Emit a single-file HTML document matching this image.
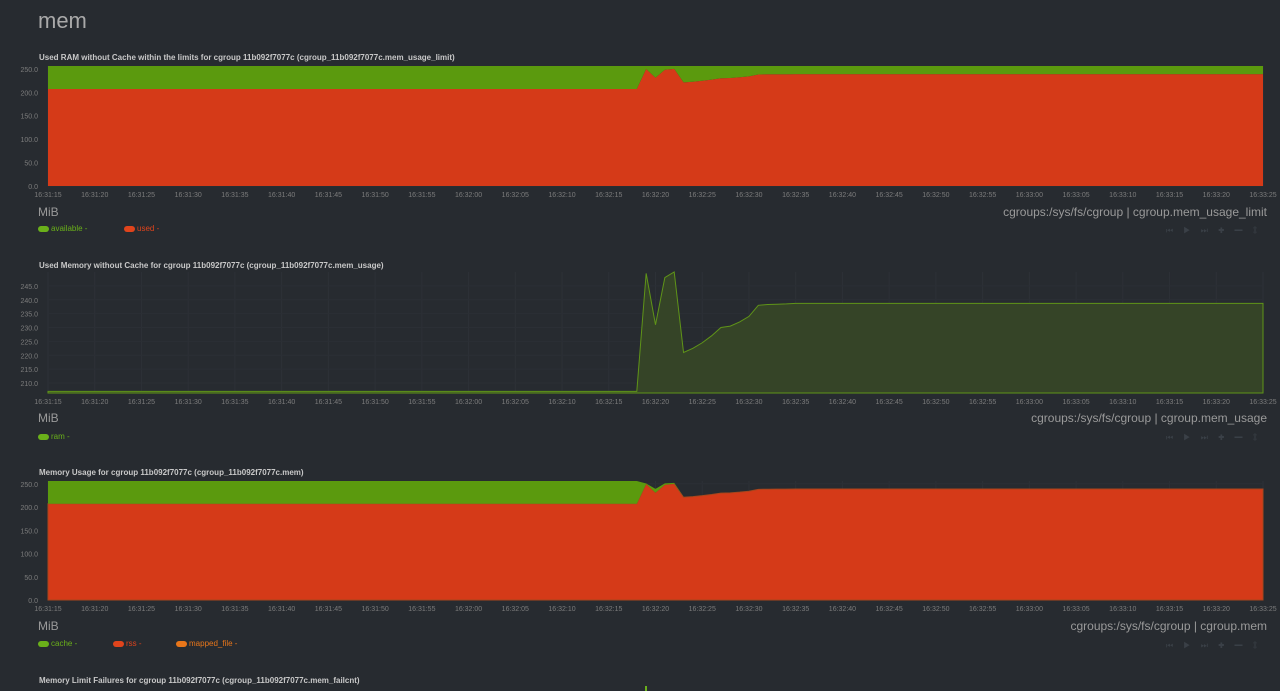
<!DOCTYPE html>
<html><head><meta charset="utf-8">
<style>
body{margin:0;background:#272b30;width:1280px;height:691px;overflow:hidden;font-family:"Liberation Sans",sans-serif;position:relative}
.abs{position:absolute;white-space:nowrap}
.title{font-size:8px;font-weight:bold;color:#c8c8c8}
.unit{font-size:12px;color:#9a9a9a}
.ctx{font-size:12px;color:#9a9a9a}
.leg{font-size:8px}
.sw{display:inline-block;width:11px;height:6px;border-radius:3px;margin-right:2px;vertical-align:middle}
svg text{font-family:"Liberation Sans",sans-serif;font-size:7px;fill:#7c7c7c}
</style></head><body>
<div class="abs" style="left:38px;top:8px;font-size:22px;color:#a9a9a9">mem</div>
<svg id="svg" width="1280" height="691" style="position:absolute;left:0;top:0"></svg>
<script>
const timeLabels=["16:31:15","16:31:20","16:31:25","16:31:30","16:31:35","16:31:40","16:31:45","16:31:50","16:31:55","16:32:00","16:32:05","16:32:10","16:32:15","16:32:20","16:32:25","16:32:30","16:32:35","16:32:40","16:32:45","16:32:50","16:32:55","16:33:00","16:33:05","16:33:10","16:33:15","16:33:20","16:33:25"];
const ramUsed=[
207,207,207,207,207,207,207,207,207,207,207,207,207,207,207,207,
207,207,207,207,207,207,207,207,207,207,207,207,207,207,207,207,
207,207,207,207,207,207,207,207,207,207,207,207,207,207,207,207,
207,207,207,207,207,207,207,207,207,207,207,207,207,207,207,207,
249.5,231,248,250,221,222.5,224.5,227,230,230.5,232,234,238,238.3,238.4,238.5,
238.7,238.7,238.7,238.7,238.7,238.7,238.7,238.7,238.7,238.7,238.7,238.7,238.7,238.7,238.7,238.7,
238.7,238.7,238.7,238.7,238.7,238.7,238.7,238.7,238.7,238.7,238.7,238.7,238.7,238.7,238.7,238.7,
238.7,238.7,238.7,238.7,238.7,238.7,238.7,238.7,238.7,238.7,238.7,238.7,238.7,238.7,238.7,238.7,
238.7,238.7,238.7];
const ramAvailable=[
49,49,49,49,49,49,49,49,49,49,49,49,49,49,49,49,
49,49,49,49,49,49,49,49,49,49,49,49,49,49,49,49,
49,49,49,49,49,49,49,49,49,49,49,49,49,49,49,49,
49,49,49,49,49,49,49,49,49,49,49,49,49,49,49,49,
6.5,25,8,6,35,33.5,31.5,29,26,25.5,24,22,18,17.7,17.6,17.5,
17.3,17.3,17.3,17.3,17.3,17.3,17.3,17.3,17.3,17.3,17.3,17.3,17.3,17.3,17.3,17.3,
17.3,17.3,17.3,17.3,17.3,17.3,17.3,17.3,17.3,17.3,17.3,17.3,17.3,17.3,17.3,17.3,
17.3,17.3,17.3,17.3,17.3,17.3,17.3,17.3,17.3,17.3,17.3,17.3,17.3,17.3,17.3,17.3,
17.3,17.3,17.3];
const memCache=[
49,49,49,49,49,49,49,49,49,49,49,49,49,49,49,49,
49,49,49,49,49,49,49,49,49,49,49,49,49,49,49,49,
49,49,49,49,49,49,49,49,49,49,49,49,49,49,49,49,
49,49,49,49,49,49,49,49,49,49,49,49,49,49,49,49,
1,8,3,2,0,0,0,0,0,0,0,0,0,0,0,0,
0,0,0,0,0,0,0,0,0,0,0,0,0,0,0,0,
0,0,0,0,0,0,0,0,0,0,0,0,0,0,0,0,
0,0,0,0,0,0,0,0,0,0,0,0,0,0,0,0,
0,0,0];
const yTicks1=[0,50,100,150,200,250];
const yTicks2=[210,215,220,225,230,235,240,245];
const yTicks3=[0,50,100,150,200,250];

const NS="http://www.w3.org/2000/svg";
const svg=document.getElementById('svg');
const X0=48,X1=1263,N=ramUsed.length;
const xs=i=>X0+(X1-X0)*i/(N-1);
function el(tag,attrs,parent){const e=document.createElementNS(NS,tag);for(const k in attrs)e.setAttribute(k,attrs[k]);(parent||svg).appendChild(e);return e;}
function html(cls,text,style,name){const d=document.createElement('div');d.className='abs '+cls;d.textContent=text;d.style.cssText=style;


document.body.appendChild(d);return d;}
function axes(top,bot,ymin,ymax,ticks){
  const ys=v=>bot-(v-ymin)/(ymax-ymin)*(bot-top);
  timeLabels.forEach((t,k)=>{const x=X0+(X1-X0)*k/(timeLabels.length-1);
    const g=el('line',{x1:x,x2:x,y1:top,y2:bot,stroke:'#2d3137','stroke-width':1});
    
    
    const tx=el('text',{x:x,y:bot+11,'text-anchor':'middle'});tx.textContent=t;
    
    });
  ticks.forEach(v=>{const y=ys(v);
    const g=el('line',{x1:X0,x2:X1,y1:y,y2:y,stroke:'#2b2f35','stroke-width':1});
    
    
    const tx=el('text',{x:X0-10,y:y+3,'text-anchor':'end'});tx.textContent=v.toFixed(1);
    
    });
  return ys;}
function area(ys,lower,upper,fill,stroke,name){
  let d='M'+xs(0)+','+ys(upper[0]);
  for(let i=1;i<N;i++)d+=' L'+xs(i)+','+ys(upper[i]);
  for(let i=N-1;i>=0;i--)d+=' L'+xs(i)+','+ys(lower[i]);
  const p=el('path',{d:d+'Z',fill:fill,stroke:stroke||'none','stroke-width':1});
  
  }
const zeros=ramUsed.map(()=>0);
let ys=axes(66,186,0,256,yTicks1);
area(ys,zeros,ramUsed,'#d53a18',null,'used-area');
area(ys,ramUsed,ramUsed.map((v,i)=>v+ramAvailable[i]),'#5b9a0e',null,'available-area');
ys=axes(272,393,206.4,250,yTicks2);
area(ys,ramUsed.map(()=>206.4),ramUsed,'#354427','#5f9418','ram-area');
ys=axes(481,600,0,256,yTicks3);
area(ys,zeros,ramUsed,'#d53a18','#a8461c','rss-area');
area(ys,ramUsed,ramUsed.map((v,i)=>v+memCache[i]),'#5b9a0e',null,'cache-area');
const charts=[
 {t:'Used RAM without Cache within the limits for cgroup 11b092f7077c (cgroup_11b092f7077c.mem_usage_limit)',ty:53,u:205,c:'cgroups:/sys/fs/cgroup | cgroup.mem_usage_limit',ly:224,leg:[['available -','#6ab01a',38],['used -','#e0441c',124]],tb:226},
 {t:'Used Memory without Cache for cgroup 11b092f7077c (cgroup_11b092f7077c.mem_usage)',ty:261,u:411,c:'cgroups:/sys/fs/cgroup | cgroup.mem_usage',ly:432,leg:[['ram -','#6ab01a',38]],tb:433},
 {t:'Memory Usage for cgroup 11b092f7077c (cgroup_11b092f7077c.mem)',ty:468,u:619,c:'cgroups:/sys/fs/cgroup | cgroup.mem',ly:639,leg:[['cache -','#6ab01a',38],['rss -','#e0441c',113],['mapped_file -','#e8761a',176]],tb:641},
];
charts.forEach(c=>{
 html('title',c.t,'left:39px;top:'+c.ty+'px','chart-title');
 html('unit','MiB','left:38px;top:'+c.u+'px','y-axis-unit');
 html('ctx',c.c,'right:13px;top:'+c.u+'px','chart-context-label');
 c.leg.forEach(l=>{const d=html('leg','','left:'+l[2]+'px;top:'+c.ly+'px;color:'+l[1],'legend-entry');
   d.innerHTML='<span class="sw" style="background:'+l[1]+'"></span>'+l[0];
   });
 const tb=html('leg','⏮ ▶ ⏭ ✚ ━  ⇕','left:1166px;top:'+c.tb+'px;color:#3a4047;font-size:8px;letter-spacing:4px','chart-toolbar');
 
});
html('title','Memory Limit Failures for cgroup 11b092f7077c (cgroup_11b092f7077c.mem_failcnt)','left:39px;top:676px','chart-title');
const sp=el('line',{x1:646,x2:646,y1:686,y2:691,stroke:'#6ab01a','stroke-width':2});


</script>
</body></html>
